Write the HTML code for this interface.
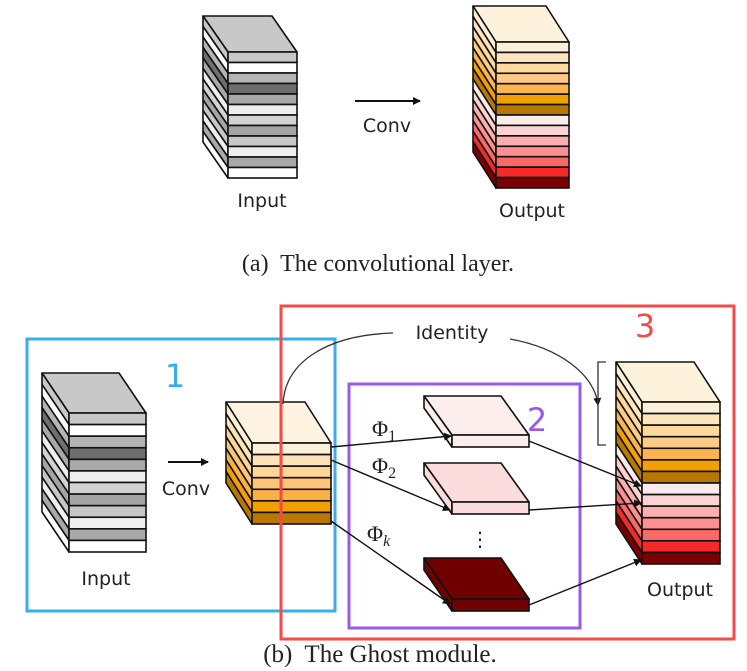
<!DOCTYPE html>
<html><head><meta charset="utf-8"><style>
html,body{margin:0;padding:0;background:#fff;width:747px;height:671px;overflow:hidden}
svg{display:block}
.s{font-family:"DejaVu Sans","Liberation Sans",sans-serif;fill:#222}
.r{font-family:"Liberation Serif",serif;fill:#222}
</style></head><body>
<svg id="g" width="747" height="671" viewBox="0 0 747 671" xmlns="http://www.w3.org/2000/svg">
<defs><marker id="ar" markerWidth="8" markerHeight="8" refX="7" refY="4" orient="auto" markerUnits="userSpaceOnUse"><path d="M0,0 L8,4 L0,8 z" fill="#111"/></marker></defs>
<g id="cubes"></g>
<line x1="355" y1="101" x2="420" y2="101" stroke="#111" stroke-width="2" marker-end="url(#ar)"/>
<text class="s" x="387" y="132" font-size="19" text-anchor="middle">Conv</text>
<text class="s" x="262" y="207" font-size="19" text-anchor="middle">Input</text>
<text class="s" x="532" y="217" font-size="19" text-anchor="middle">Output</text>
<text class="r" x="378" y="271" font-size="24" text-anchor="middle" xml:space="preserve">(a)  The convolutional layer.</text>
<rect x="27" y="339" width="308" height="272" fill="none" stroke="#3aacf0" stroke-width="3"/>
<rect x="281" y="306" width="453" height="333" fill="none" stroke="#f44a4a" stroke-width="3"/>
<rect x="349" y="384" width="231" height="244" fill="none" stroke="#9b59e8" stroke-width="3"/>
<text x="175" y="387" font-size="32" fill="#3aacf0" font-family="DejaVu Sans,sans-serif" text-anchor="middle">1</text>
<text x="537" y="431" font-size="32" fill="#9b59e8" font-family="DejaVu Sans,sans-serif" text-anchor="middle">2</text>
<text x="645" y="337" font-size="32" fill="#f44a4a" font-family="DejaVu Sans,sans-serif" text-anchor="middle">3</text>
<line x1="168" y1="462" x2="208" y2="462" stroke="#111" stroke-width="2" marker-end="url(#ar)"/>
<text class="s" x="186" y="495" font-size="19" text-anchor="middle">Conv</text>
<text class="s" x="106" y="585" font-size="19" text-anchor="middle">Input</text>
<text class="s" x="680" y="596" font-size="19" text-anchor="middle">Output</text>
<text class="s" x="452" y="339" font-size="19" text-anchor="middle">Identity</text>
<path d="M283,404 C285,360 330,335 393,333" fill="none" stroke="#333" stroke-width="1.3"/>
<path d="M510,339 C560,348 595,375 598,405" fill="none" stroke="#333" stroke-width="1.3" marker-end="url(#ar)"/>
<path d="M606,362 L598,362 L598,445 L606,445" fill="none" stroke="#333" stroke-width="1.3"/>
<g stroke="#111" stroke-width="1.4" fill="none">
<line x1="331" y1="447" x2="451" y2="436" marker-end="url(#ar)"/>
<line x1="331" y1="460" x2="450" y2="510" marker-end="url(#ar)"/>
<line x1="331" y1="521" x2="450" y2="604" marker-end="url(#ar)"/>
<line x1="529" y1="441" x2="641" y2="486" marker-end="url(#ar)"/>
<line x1="529" y1="510" x2="641" y2="503" marker-end="url(#ar)"/>
<line x1="529" y1="605" x2="641" y2="560" marker-end="url(#ar)"/>
</g>
<text class="r" x="372" y="436" font-size="22">Φ<tspan font-size="16" dy="5">1</tspan></text>
<text class="r" x="372" y="473" font-size="22">Φ<tspan font-size="16" dy="5">2</tspan></text>
<text class="r" x="367" y="541" font-size="22">Φ<tspan font-size="16" dy="5" font-style="italic">k</tspan></text>
<text class="s" x="480" y="546" font-size="20" text-anchor="middle">⋮</text>
<text class="r" x="380" y="662" font-size="25" text-anchor="middle" xml:space="preserve">(b)  The Ghost module.</text>
</svg>
<script>
var G=document.getElementById('cubes'),NS='http://www.w3.org/2000/svg';
function el(t,a){var e=document.createElementNS(NS,t);for(var k in a)e.setAttribute(k,a[k]);G.appendChild(e);return e;}
function pts(a){return a.map(function(p){return p.join(',')}).join(' ');}
function cube(fx0,fx1,fy0,fy1,bx,by,top,cols,sw){
  sw=sw||1.6;var dx=bx-fx0,dy=by-fy0,n=cols.length,h=(fy1-fy0)/n;
  el('polygon',{points:pts([[bx,by],[fx1+dx,by],[fx1,fy0],[fx0,fy0]]),fill:top,stroke:'#111','stroke-width':sw,'stroke-linejoin':'round'});
  for(var i=0;i<n;i++){var y0=fy0+i*h,y1=y0+h;
    el('polygon',{points:pts([[bx,y0+dy],[fx0,y0],[fx0,y1],[bx,y1+dy]]),fill:cols[i],stroke:'#111','stroke-width':sw,'stroke-linejoin':'round'});
    el('rect',{x:fx0,y:y0,width:fx1-fx0,height:h,fill:cols[i],stroke:'#111','stroke-width':sw});}
}
var gray=['#c8c8c8','#ffffff','#b4b4b4','#6e6e6e','#a8a8a8','#eeeeee','#d2d2d2','#a4a4a4','#c6c6c6','#efefef','#a8a8a8','#ffffff'];
var outc=['#fdf0d8','#fde6bd','#fdd99e','#fccb86','#fbb550','#f0a000','#b87800','#fdeaea','#fcd2d2','#fbb0b0','#fa9090','#f86a6a','#f42a2a','#780000'];
cube(228,297,52,178,203,16,'#c8c8c8',gray);
cube(496,569,42,188,473,6,'#fdf2dc',outc);
cube(69,146,413,552,42,373,'#c8c8c8',gray);
cube(252,331,443,524,226,402,'#fdf3e0',['#fdf0d8','#fde4b8','#fdd698','#fcc57a','#fbb045','#f0a000','#b87800']);
cube(642,720,402,564,616,362,'#fdf2dc',outc);
cube(452,529,435,447,424,396,'#fdeeee',['#fdeeee']);
cube(452,529,502,514,424,463,'#fcdcdc',['#fcdcdc']);
cube(452,529,599,611,424,558,'#700000',['#700000']);
</script>
</body></html>
